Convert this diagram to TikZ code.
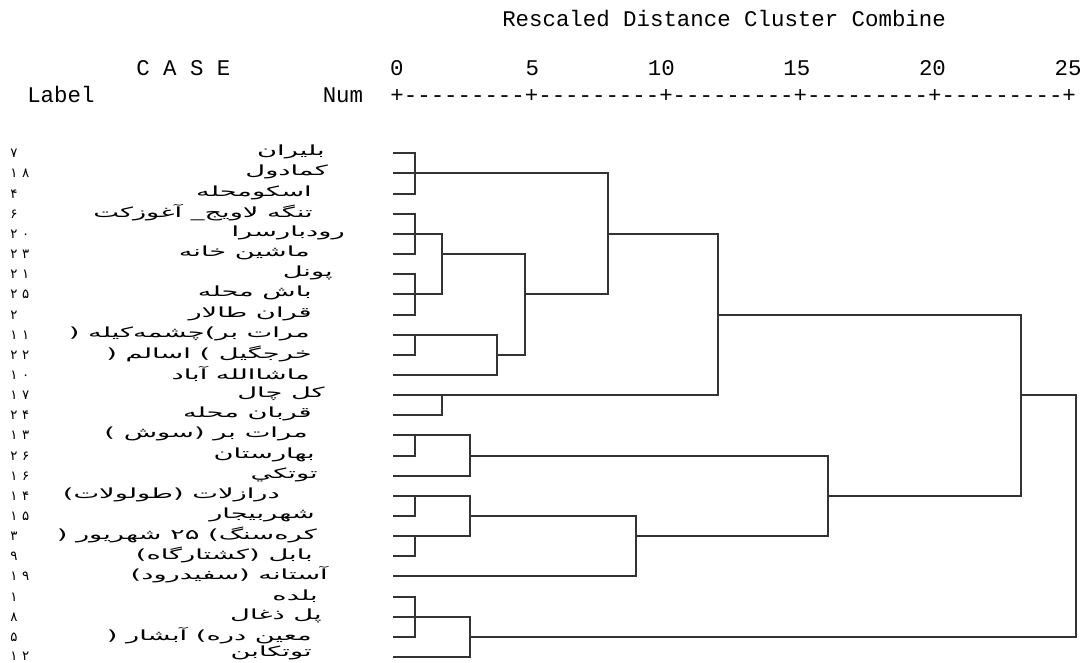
\documentclass[tikz,border=0pt]{standalone}
\usepackage{fontspec}
\setmonofont{Liberation Mono}
\newfontfamily\farsi[Script=Arabic,FakeStretch=1.95]{DejaVu Sans}
\newfontfamily\farsinum[LetterSpace=35]{DejaVu Sans}
\TeXXeTstate=1
\newcommand{\plabel}[1]{{\farsi\beginR #1\endR}}
\usepackage{tikz}
\usetikzlibrary{positioning}

\begin{document}
\begin{tikzpicture}
      [x=0.75pt, y=-0.75pt,
       dline/.style={draw=black!80, line width=1.1pt},
       head/.style={inner sep=0pt, font=\fontsize{16.8}{20}\selectfont\ttfamily},
       casenum/.style={anchor=west, inner sep=0pt, font=\fontsize{10}{12}\selectfont\farsinum},
       village/.style={anchor=east, inner sep=0pt, yshift=0.75pt, font=\fontsize{10.5}{13}\selectfont}]
      \useasboundingbox (0,0) rectangle (1082,662);

      \node (title) [head, anchor=base west] at (502,26) {Rescaled Distance Cluster Combine};
      \node (case) [head, anchor=base west] at (136,75) {C A S E};
      \node (lab) [head, anchor=base west] at (27,102) {Label};
      \node (num) [head, anchor=base west] at (322.5,102) {Num};
      \node (axis) [head, anchor=base west] at (390.2,102) {+---------+---------+---------+---------+---------+};

      \node (t0) [head, anchor=base east] at (403.8,75) {0};
      \node (t5) [head, anchor=base east] at (539.4,75) {5};
      \node (t10) [head, anchor=base east] at (675,75) {10};
      \node (t15) [head, anchor=base east] at (810.6,75) {15};
      \node (t20) [head, anchor=base east] at (946.2,75) {20};
      \node (t25) [head, anchor=base east] at (1081.8,75) {25};

      \node (n1) [casenum] at (10,153) {۷};
      \node (n2) [casenum] at (10,173) {۱۸};
      \node (n3) [casenum] at (10,194) {۴};
      \node (n4) [casenum] at (10,214) {۶};
      \node (n5) [casenum] at (10,234) {۲۰};
      \node (n6) [casenum] at (10,254) {۲۳};
      \node (n7) [casenum] at (10,274) {۲۱};
      \node (n8) [casenum] at (10,294) {۲۵};
      \node (n9) [casenum] at (10,315) {۲};
      \node (n10) [casenum] at (10,335) {۱۱};
      \node (n11) [casenum] at (10,355) {۲۲};
      \node (n12) [casenum] at (10,375) {۱۰};
      \node (n13) [casenum] at (10,395) {۱۷};
      \node (n14) [casenum] at (10,415) {۲۴};
      \node (n15) [casenum] at (10,435) {۱۳};
      \node (n16) [casenum] at (10,456) {۲۶};
      \node (n17) [casenum] at (10,476) {۱۶};
      \node (n18) [casenum] at (10,496) {۱۴};
      \node (n19) [casenum] at (10,516) {۱۵};
      \node (n20) [casenum] at (10,536) {۳};
      \node (n21) [casenum] at (10,556) {۹};
      \node (n22) [casenum] at (10,576) {۱۹};
      \node (n23) [casenum] at (10,597) {۱};
      \node (n24) [casenum] at (10,617) {۸};
      \node (n25) [casenum] at (10,637) {۵};
      \node (n26) [casenum] at (10,656) {۱۲};

      \node (v1) [village] at (325,153) {\plabel{بلیران}};
      \node (v2) [village] at (328,173) {\plabel{کمادول}};
      \node (v3) [village] at (312,194) {\plabel{اسکومحله}};
      \node (v4) [village] at (313,214) {\plabel{تنگه لاویج\_ آغوزکت}};
      \node (v5) [village] at (345,234) {\plabel{رودبارسرا}};
      \node (v6) [village] at (310,254) {\plabel{ماشین خانه}};
      \node (v7) [village] at (333,274) {\plabel{پونل}};
      \node (v8) [village] at (312,294) {\plabel{باش محله}};
      \node (v9) [village] at (312,315) {\plabel{قران طالار}};
      \node (v10) [village] at (310,335) {\plabel{مرات بر)چشمه‌کیله (}};
      \node (v11) [village] at (312,355) {\plabel{خرجگیل ) اسالم (}};
      \node (v12) [village] at (310,375) {\plabel{ماشاالله آباد}};
      \node (v13) [village] at (325,395) {\plabel{کل چال}};
      \node (v14) [village] at (312,415) {\plabel{قربان محله}};
      \node (v15) [village] at (308,435) {\plabel{مرات بر (سوش )}};
      \node (v16) [village] at (315,456) {\plabel{بهارستان}};
      \node (v17) [village] at (318,476) {\plabel{توتکي}};
      \node (v18) [village] at (280,496) {\plabel{درازلات (طولولات)}};
      \node (v19) [village] at (315,516) {\plabel{شهربیجار}};
      \node (v20) [village] at (317,536) {\plabel{کره‌سنگ) ۲۵ شهریور (}};
      \node (v21) [village] at (313,556) {\plabel{بابل (کشتارگاه)}};
      \node (v22) [village] at (328,576) {\plabel{آستانه (سفیدرود)}};
      \node (v23) [village] at (318,597) {\plabel{بلده}};
      \node (v24) [village] at (322,617) {\plabel{پل ذغال}};
      \node (v25) [village] at (312,637) {\plabel{معین دره) آبشار (}};
      \node (v26) [village] at (312,654) {\plabel{توتکابن}};

      \coordinate (L1) at (393,153);
      \coordinate (L2) at (393,173);
      \coordinate (L3) at (393,194);
      \coordinate (L4) at (393,214);
      \coordinate (L5) at (393,234);
      \coordinate (L6) at (393,254);
      \coordinate (L7) at (393,274);
      \coordinate (L8) at (393,294);
      \coordinate (L9) at (393,315);
      \coordinate (L10) at (393,335);
      \coordinate (L11) at (393,355);
      \coordinate (L12) at (393,375);
      \coordinate (L13) at (393,395);
      \coordinate (L14) at (393,415);
      \coordinate (L15) at (393,435);
      \coordinate (L16) at (393,456);
      \coordinate (L17) at (393,476);
      \coordinate (L18) at (393,496);
      \coordinate (L19) at (393,516);
      \coordinate (L20) at (393,536);
      \coordinate (L21) at (393,556);
      \coordinate (L22) at (393,576);
      \coordinate (L23) at (393,597);
      \coordinate (L24) at (393,617);
      \coordinate (L25) at (393,637);
      \coordinate (L26) at (393,657);

      \coordinate (a1) at (415,173);
      \coordinate (a2) at (415,234);
      \coordinate (a3) at (415,294);
      \coordinate (a4) at (415,335);
      \coordinate (a5) at (442,395);
      \coordinate (a6) at (415,435);
      \coordinate (a7) at (415,496);
      \coordinate (a8) at (415,536);
      \coordinate (a9) at (415,617);
      \coordinate (b1) at (442,254);
      \coordinate (b2) at (497,355);
      \coordinate (b3) at (470,456);
      \coordinate (b4) at (470,516);
      \coordinate (b5) at (470,637);
      \coordinate (c1) at (525,294);
      \coordinate (c2) at (636,536);
      \coordinate (d1) at (608,234);
      \coordinate (e1) at (718,315);
      \coordinate (f1) at (828,496);
      \coordinate (g1) at (1021,395);
      \coordinate (root) at (1076,516);

      \draw[dline] (L1) -| (a1) |- (L3);
      \draw[dline] (L2) -- (a1);
      \draw[dline] (L4) -| (a2) |- (L6);
      \draw[dline] (L5) -- (a2);
      \draw[dline] (L7) -| (a3) |- (L9);
      \draw[dline] (L8) -- (a3);
      \draw[dline] (L10) -| (a4) |- (L11);
      \draw[dline] (L13) -| (a5) |- (L14);
      \draw[dline] (L15) -| (a6) |- (L16);
      \draw[dline] (L18) -| (a7) |- (L19);
      \draw[dline] (L20) -| (a8) |- (L21);
      \draw[dline] (L23) -| (a9) |- (L25);
      \draw[dline] (L24) -- (a9);

      \draw[dline] (a2) -| (b1) |- (a3);
      \draw[dline] (a4) -| (b2) |- (L12);
      \draw[dline] (a6) -| (b3) |- (L17);
      \draw[dline] (a7) -| (b4) |- (a8);
      \draw[dline] (a9) -| (b5) |- (L26);

      \draw[dline] (b1) -| (c1) |- (b2);
      \draw[dline] (b4) -| (c2) |- (L22);
      \draw[dline] (a1) -| (d1) |- (c1);
      \draw[dline] (d1) -| (e1) |- (a5);
      \draw[dline] (b3) -| (f1) |- (c2);
      \draw[dline] (e1) -| (g1) |- (f1);
      \draw[dline] (g1) -| (root) |- (b5);
      \end{tikzpicture}
\end{document}
